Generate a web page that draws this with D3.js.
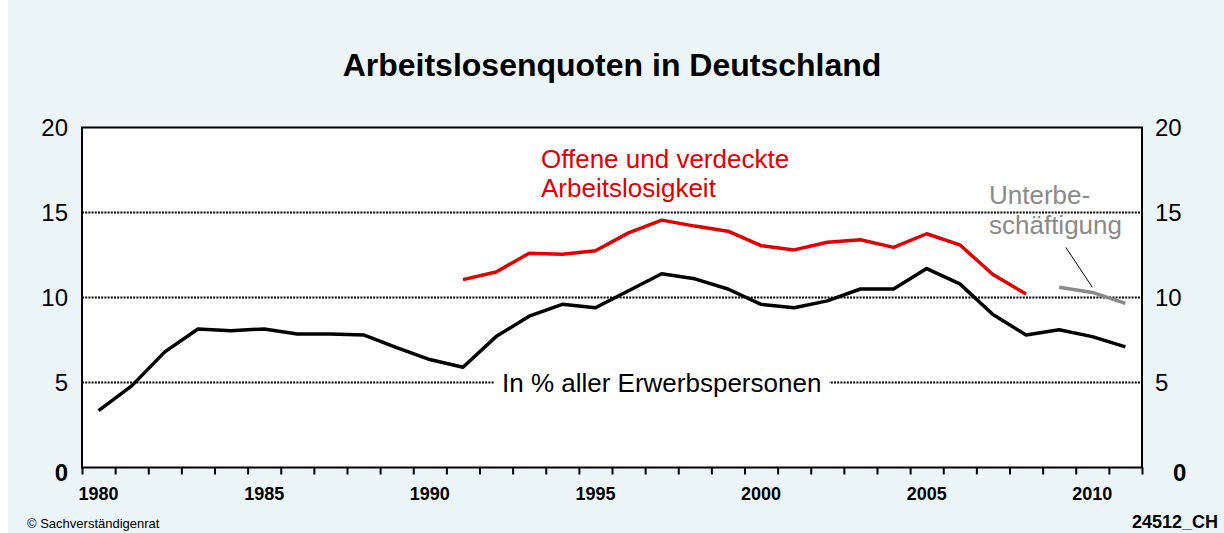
<!DOCTYPE html>
<html>
<head>
<meta charset="utf-8">
<script src="https://cdn.jsdelivr.net/npm/d3@7"></script>
<style>
  body { margin: 0; background: #ffffff; }
  svg { display: block; font-family: Arial, "Liberation Sans", sans-serif; }
</style>
</head>
<body>
<div id="chart"></div>
<script>
// Data
var years = [1980, 1981, 1982, 1983, 1984, 1985, 1986, 1987, 1988, 1989,
             1990, 1991, 1992, 1993, 1994, 1995, 1996, 1997, 1998, 1999,
             2000, 2001, 2002, 2003, 2004, 2005, 2006, 2007, 2008, 2009,
             2010, 2011];

// in % aller Erwerbspersonen (black)
var quote = [3.35, 4.8, 6.8, 8.15, 8.05, 8.15, 7.85, 7.85, 7.8, 7.05,
             6.35, 5.9, 7.7, 8.9, 9.6, 9.4, 10.4, 11.4, 11.1, 10.5,
             9.6, 9.4, 9.8, 10.5, 10.5, 11.7, 10.8, 9.0, 7.8, 8.1,
             7.7, 7.1];

// Offene und verdeckte Arbeitslosigkeit (red)
var offenVerdeckt = [null, null, null, null, null, null, null, null, null, null,
                     null, 11.05, 11.5, 12.6, 12.55, 12.75, 13.8, 14.55, 14.2, 13.9,
                     13.05, 12.8, 13.25, 13.4, 12.95, 13.75, 13.1, 11.35, 10.2, null,
                     null, null];

// Unterbeschaeftigung (grey)
var unterbesch = [null, null, null, null, null, null, null, null, null, null,
                  null, null, null, null, null, null, null, null, null, null,
                  null, null, null, null, null, null, null, null, null, 10.6,
                  10.3, 9.65];

var yTicks = [0, 5, 10, 15, 20];
var gridTicks = [5, 10, 15];
var xLabelYears = [1980, 1985, 1990, 1995, 2000, 2005, 2010];

var svgWidth = 1224, svgHeight = 533;
var margin = { top: 127.5, right: 82, bottom: 65.5, left: 82 };
var width = svgWidth - margin.left - margin.right;
var height = svgHeight - margin.top - margin.bottom;

var svg = d3.select("#chart").append("svg")
    .attr("width", svgWidth)
    .attr("height", svgHeight);

// background
svg.append("rect")
    .attr("x", 8).attr("y", 0)
    .attr("width", svgWidth - 8).attr("height", svgHeight)
    .attr("fill", "#ebf5f8");

// title
svg.append("text")
    .attr("x", 612).attr("y", 76)
    .attr("text-anchor", "middle")
    .attr("font-size", "32px")
    .attr("font-weight", "bold")
    .text("Arbeitslosenquoten in Deutschland");

var chartGroup = svg.append("g")
    .attr("transform", `translate(${margin.left}, ${margin.top})`);

// scales: years sit in the middle of each category slot
var xScale = d3.scaleLinear()
    .domain([years[0] - 0.5, years[years.length - 1] + 0.5])
    .range([0, width]);
var yScale = d3.scaleLinear()
    .domain([0, 20])
    .range([height, 0]);

// plot area
chartGroup.append("rect")
    .attr("width", width).attr("height", height)
    .attr("fill", "white");

// dotted grid lines
chartGroup.append("g")
    .selectAll("line")
    .data(gridTicks)
    .enter()
    .append("line")
    .attr("x1", 0).attr("x2", width)
    .attr("y1", d => yScale(d)).attr("y2", d => yScale(d))
    .attr("stroke", "black")
    .attr("stroke-width", 2)
    .attr("stroke-dasharray", "2,1.2");

// annotation: In % aller Erwerbspersonen (white box covers the grid line)
var noteGroup = chartGroup.append("g");
var noteBox = noteGroup.append("rect").attr("fill", "white");
var note = noteGroup.append("text")
    .attr("x", xScale(1997))
    .attr("y", yScale(5) + 9)
    .attr("text-anchor", "middle")
    .attr("font-size", "26px")
    .attr("fill", "black")
    .text("In % aller Erwerbspersonen");
var bb = note.node().getBBox();
noteBox.attr("x", bb.x - 8).attr("y", bb.y)
    .attr("width", bb.width + 16).attr("height", bb.height);

// lines
var line = d3.line()
    .defined(d => d.v !== null)
    .x(d => xScale(d.year))
    .y(d => yScale(d.v));

function series(values) {
    return years.map((y, i) => ({ year: y, v: values[i] }));
}

chartGroup.append("path")
    .datum(series(quote))
    .attr("d", line)
    .attr("fill", "none")
    .attr("stroke", "black")
    .attr("stroke-width", 3.5)
    .attr("stroke-linejoin", "round");

chartGroup.append("path")
    .datum(series(offenVerdeckt))
    .attr("d", line)
    .attr("fill", "none")
    .attr("stroke", "#e00000")
    .attr("stroke-width", 3.5)
    .attr("stroke-linejoin", "round");

chartGroup.append("path")
    .datum(series(unterbesch))
    .attr("d", line)
    .attr("fill", "none")
    .attr("stroke", "#8a8a8a")
    .attr("stroke-width", 3.5)
    .attr("stroke-linejoin", "round");

// leader line for Unterbeschaeftigung
chartGroup.append("line")
    .attr("x1", xScale(2009.2)).attr("y1", yScale(12.95))
    .attr("x2", xScale(2010)).attr("y2", yScale(10.6))
    .attr("stroke", "black")
    .attr("stroke-width", 1);

// series labels
chartGroup.append("text")
    .attr("font-size", "26px")
    .attr("fill", "#e00000")
    .selectAll("tspan")
    .data(["Offene und verdeckte", "Arbeitslosigkeit"])
    .enter()
    .append("tspan")
    .attr("x", 459)
    .attr("y", (d, i) => 40 + i * 29)
    .text(d => d);

chartGroup.append("text")
    .attr("font-size", "26px")
    .attr("fill", "#8a8a8a")
    .selectAll("tspan")
    .data(["Unterbe-", "schäftigung"])
    .enter()
    .append("tspan")
    .attr("x", 907)
    .attr("y", (d, i) => 76 + i * 30)
    .text(d => d);

// frame
chartGroup.append("rect")
    .attr("width", width).attr("height", height)
    .attr("fill", "none")
    .attr("stroke", "black")
    .attr("stroke-width", 2);

// x axis: ticks between categories, labels every 5 years
var xAxis = d3.axisBottom(xScale)
    .tickValues(d3.range(years[0] - 0.5, years[years.length - 1] + 1, 1))
    .tickSize(7)
    .tickFormat("");
var xAxisGroup = chartGroup.append("g")
    .attr("transform", `translate(0, ${height})`)
    .call(xAxis);
xAxisGroup.select(".domain").remove();
xAxisGroup.selectAll(".tick line").attr("stroke", "black").attr("stroke-width", 2);

chartGroup.append("g")
    .selectAll("text")
    .data(xLabelYears)
    .enter()
    .append("text")
    .attr("x", d => xScale(d))
    .attr("y", height + 32)
    .attr("text-anchor", "middle")
    .attr("font-size", "18px")
    .attr("font-weight", "bold")
    .text(d => d);

// y labels left and right
[{ x: -14, anchor: "end" }, { x: width + 13, anchor: "start" }].forEach(function (side) {
    chartGroup.append("g")
        .selectAll("text")
        .data(yTicks)
        .enter()
        .append("text")
        .attr("x", d => d === 0 ? side.x + (side.anchor === "start" ? 18 : 0) : side.x)
        .attr("y", d => d === 0 ? yScale(d) + 13 : yScale(d) + 8)
        .attr("text-anchor", side.anchor)
        .attr("font-size", "24px")
        .attr("font-weight", d => d === 0 ? "bold" : "normal")
        .text(d => d);
});

// footer
svg.append("text")
    .attr("x", 27).attr("y", 528)
    .attr("font-size", "13px")
    .text("© Sachverständigenrat");
svg.append("text")
    .attr("x", 1218).attr("y", 528)
    .attr("text-anchor", "end")
    .attr("font-size", "18px")
    .attr("font-weight", "bold")
    .text("24512_CH");
</script>
</body>
</html>
